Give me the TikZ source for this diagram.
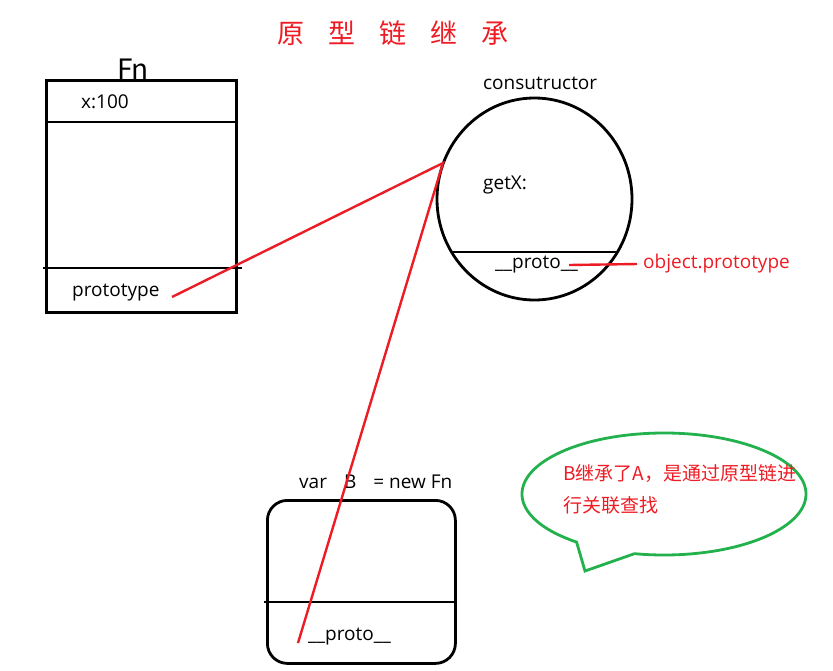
\documentclass[tikz,border=0pt]{standalone}
\usepackage{fontspec}
\setmainfont{Open Sans}
\newfontfamily\cjk{Noto Sans CJK SC}
\usepackage{xcolor}
\definecolor{paintred}{HTML}{ED1C24}
\definecolor{paintgreen}{HTML}{22B14C}
\usetikzlibrary{positioning,calc,shapes.geometric}

\begin{document}
\begin{tikzpicture}[
  x=1pt, y=-1pt,
  font=\fontsize{19}{22}\selectfont,
  frame/.style={draw, line width=2.8pt, inner sep=0pt},
  divider/.style={draw, line width=2.8pt},
  link/.style={draw=paintred, line width=2.4pt},
  lbl/.style={inner sep=0pt, anchor=west},
]
\useasboundingbox (0,0) rectangle (833,670);

% Title
\node[text=paintred, font=\cjk\fontsize{27}{30}\selectfont] (title) at (393,33)
  {原\hskip24pt型\hskip24pt链\hskip24pt继\hskip24pt承};

% Fn box
\node[frame, rectangle, minimum width=190pt, minimum height=232pt, anchor=north west] (fn) at (45,79) {};
\node[font=\cjk\fontsize{28}{30}\selectfont, inner sep=0pt, anchor=base] (fnname) at (133,79) {Fn};
\draw[divider] (45,122) -- (235,122);
\draw[divider] (43,268) -- (242,268);
\node[lbl] (xval) at (81,102) {x:100};
\node[lbl] (proto) at (72,293) {prototype};

% Prototype object
\node[frame, ellipse, minimum width=195pt, minimum height=202pt] (pobj) at (534.5,199) {};
\node[lbl] (ctor) at (483,83) {consutructor};
\node[lbl] (getx) at (483,185) {getX:};
\draw[divider] (451,252) -- (618,252);
\node[lbl] (pproto) at (495,265) {\_\_proto\_\_};
\node[lbl, text=paintred] (objproto) at (643,264) {object.prototype};

% Instance B
\node[frame, rectangle, rounded corners=20pt, minimum width=188pt, minimum height=163pt, anchor=north west] (inst) at (266,499) {};
\node[lbl] (newfn) at (299,482) {var\hspace{17pt}B\hspace{17pt}= new Fn};
\draw[divider] (264,602) -- (456,602);
\node[lbl] (iproto) at (308,637) {\_\_proto\_\_};

% Links
\coordinate (fromfn) at (172,297);
\coordinate (joint) at (443,163);
\coordinate (fromb) at (298,643);
\coordinate (toobj) at (569,265);
\draw[link] (fromfn) -- (joint) -- (fromb);
\draw[link] (toobj) -- ([xshift=-6pt]objproto.west);

% Note bubble
\draw[draw=paintgreen, line width=2.8pt, line join=miter]
  (585,571) -- ($(664,494)+(128:142 and 61)$)
  arc[start angle=128, end angle=462, x radius=142, y radius=61] -- cycle;
\node[lbl, text=paintred, align=left, font=\cjk\fontsize{19}{32}\selectfont] (note) at (563,489)
  {B继承了A，是通过原型链进\\行关联查找};
\end{tikzpicture}
\end{document}
